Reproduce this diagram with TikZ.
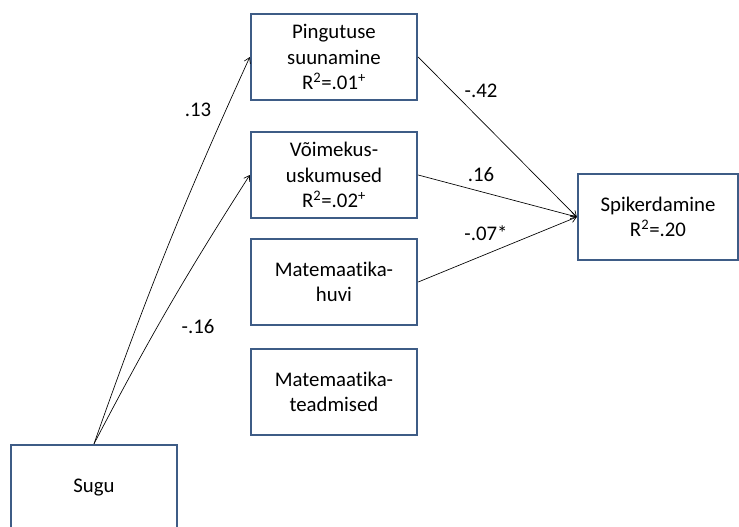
\documentclass[tikz,border=0pt]{standalone}
\usepackage{fontspec}
\setmainfont[Ligatures={NoCommon}]{Carlito}
\usetikzlibrary{arrows.meta}
\definecolor{boxblue}{RGB}{62,92,134}

\begin{document}
\begin{tikzpicture}[x=0.75pt,y=-0.75pt,>/.tip={Straight Barb[length=4pt,width=5pt]},
	var/.style={draw=boxblue,line width=1.8pt,minimum width=124.5pt,minimum height=64.5pt,align=center,font=\fontsize{15.6}{19}\selectfont,inner sep=2pt},
	arr/.style={->,line width=0.5pt},
	coef/.style={font=\fontsize{15.6}{18}\selectfont}]
	\useasboundingbox (0,0) rectangle (739,526);
	\node (ping) [var] at (334,57) {Pingutuse\\suunamine\\R\textsuperscript{2}=.01\textsuperscript{+}};
	\node (voim) [var] at (334,175) {Võimekus-\\uskumused\\R\textsuperscript{2}=.02\textsuperscript{+}};
	\node (huvi) [var] at (334,282) {Matemaatika-\\huvi};
	\node (tead) [var] at (334,392) {Matemaatika-\\teadmised};
	\node (spik) [var,minimum width=120pt] at (658,217) {Spikerdamine\\R\textsuperscript{2}=.20};
	\node (sugu) [var] at (94,488) {Sugu};
	\draw[arr] (sugu.north) to [bend left=2.5] (ping.west);
	\draw[arr] (sugu.north) to [bend left=2.5] (voim.west);
	\draw[arr] (ping.east) -- (spik.west);
	\draw[arr] (voim.east) -- (spik.west);
	\draw[arr] (huvi.east) -- (spik.west);
	\node (c13) [coef] at (198,110) {.13};
	\node (c16a) [coef] at (198,327) {-.16};
	\node (c42) [coef] at (481,91) {-.42};
	\node (c16b) [coef] at (481,175) {.16};
	\node (c07) [coef] at (486,233) {-.07*};
\end{tikzpicture}
\end{document}
